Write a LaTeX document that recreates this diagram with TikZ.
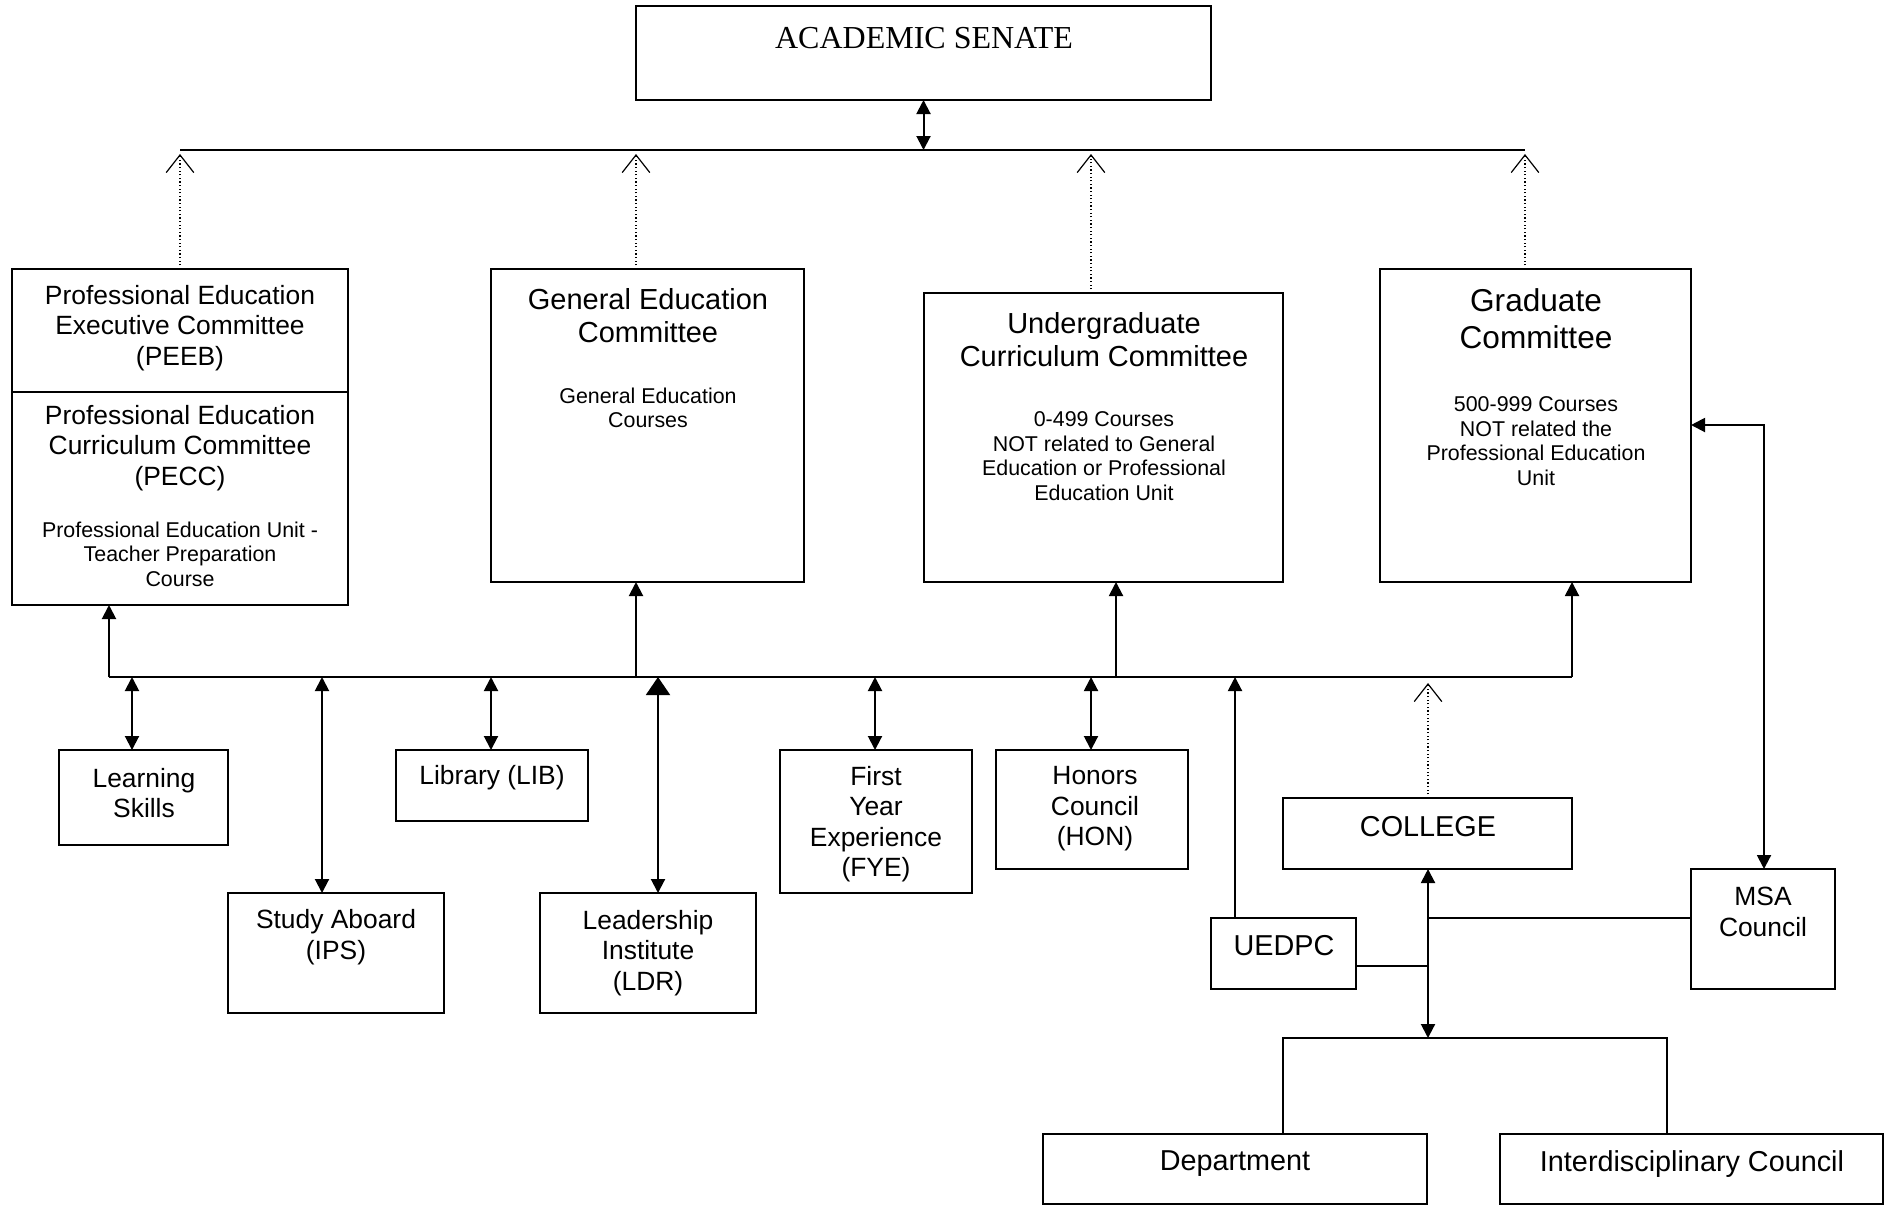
\documentclass[tikz,border=0pt]{standalone}
\usepackage{fontspec}
\setmainfont{Liberation Sans}
\newfontfamily\seriffont{Liberation Serif}
\usetikzlibrary{arrows.meta}
\newcommand\mkbox[5]{\node[box, minimum width={(#4-#2)*0.5pt}, minimum height={(#5-#3)*0.5pt}] (#1) at ({(#2+#4)/2},{(#3+#5)/2}) {};}
\begin{document}
\begin{tikzpicture}[x=0.5pt,y=-0.5pt,
  box/.style={draw, line width=1pt, inner sep=0pt, outer sep=0pt},
  txt/.style={inner sep=0pt, outer sep=0pt, align=center},
  titlef/.style={font=\fontsize{14.5}{16.5}\selectfont},
  gradf/.style={font=\fontsize{15.8}{18.5}\selectfont},
  medf/.style={font=\fontsize{13.2}{15.2}\selectfont},
  bigf/.style={font=\fontsize{14.4}{16.5}\selectfont},
  smallf/.style={font=\fontsize{10.7}{12.3}\selectfont},
  conn/.style={line width=1pt},
  >={Triangle[length=7pt,width=7pt]},
  bigtip/.style={{Triangle[length=9pt,width=12pt]}-{Triangle[length=7pt,width=7pt]}},
  dotline/.style={line width=0.6pt, dash pattern=on 0.6pt off 1.2pt, -{Straight Barb[length=8.8pt,width=13.8pt,line width=0.6pt]}}
]
\fill[white] (0,0) rectangle (1893,1206);
\useasboundingbox (0,0) rectangle (1893,1206);

% boxes
\mkbox{senate}{636}{6}{1211}{100}
\mkbox{peeb}{12}{269}{348}{605}
\mkbox{ge}{491}{269}{804}{582}
\mkbox{ucc}{924}{293}{1283}{582}
\mkbox{grad}{1380}{269}{1691}{582}
\mkbox{ls}{59}{750}{228}{845}
\mkbox{sa}{228}{893}{444}{1013}
\mkbox{lib}{396}{750}{588}{821}
\mkbox{ldr}{540}{893}{756}{1013}
\mkbox{fye}{780}{750}{972}{893}
\mkbox{hon}{996}{750}{1188}{869}
\mkbox{uedpc}{1211}{918}{1356}{989}
\mkbox{college}{1283}{798}{1572}{869}
\mkbox{msa}{1691}{869}{1835}{989}
\mkbox{dept}{1043}{1134}{1427}{1204}
\mkbox{ic}{1500}{1134}{1883}{1204}

\coordinate (pdiv) at (180,392);
\draw[conn] (peeb.west |- pdiv) -- (peeb.east |- pdiv);

% texts
\node[txt, font=\seriffont\fontsize{16}{18}\selectfont] (senate-t) at (924,38) {ACADEMIC SENATE};
\node[txt, medf] (peeb-t1) at (180,328) {Professional Education\\Executive Committee\\(PEEB)};
\node[txt, medf] (peeb-t2) at (180,448) {Professional Education\\Curriculum Committee\\(PECC)};
\node[txt, smallf] (peeb-t3) at (180,554) {Professional Education Unit -\\Teacher Preparation\\Course};
\node[txt, titlef] (ge-t1) at (648,316) {General Education\\Committee};
\node[txt, smallf] (ge-t2) at (648,408) {General Education\\Courses};
\node[txt, titlef] (ucc-t1) at (1104,340) {Undergraduate\\Curriculum Committee};
\node[txt, smallf] (ucc-t2) at (1104,456) {0-499 Courses\\NOT related to General\\Education or Professional\\Education Unit};
\node[txt, gradf] (grad-t1) at (1536,319) {Graduate\\Committee};
\node[txt, smallf] (grad-t2) at (1536,441) {500-999 Courses\\NOT related the\\Professional Education\\Unit};
\node[txt, medf] (ls-t) at (144,793) {Learning\\Skills};
\node[txt, medf] (sa-t) at (336,937) {Study Aboard\\(IPS)};
\node[txt, medf] (lib-t) at (492,778) {Library (LIB)};
\node[txt, medf] (ldr-t) at (648,953) {Leadership\\Institute\\(LDR)};
\node[txt, medf] (fye-t) at (876,824) {First\\Year\\Experience\\(FYE)};
\node[txt, medf] (hon-t) at (1095,809) {Honors\\Council\\(HON)};
\node[txt, bigf] (uedpc-t) at (1284,946) {UEDPC};
\node[txt, bigf] (college-t) at (1428,827) {COLLEGE};
\node[txt, medf] (msa-t) at (1763,912) {MSA\\Council};
\node[txt, bigf] (dept-t) at (1235,1164) {Department};
\node[txt, bigf] (ic-t) at (1692,1164) {Interdisciplinary Council};

% top line to senate
\coordinate (topL) at (180,150);
\coordinate (topR) at (1525,150);
\draw[line width=1.1pt] (topL) -- (topR);
\draw[conn,<->] (senate.south) -- (senate.south |- topL);

% dotted open arrows to top line
\coordinate (d1) at (180,154);
\coordinate (d2) at (636,154);
\coordinate (d3) at (1091,154);
\coordinate (d4) at (1525,154);
\draw[dotline] (peeb.north -| d1) -- (d1);
\draw[dotline] (ge.north -| d2) -- (d2);
\draw[dotline] (ucc.north -| d3) -- (d3);
\draw[dotline] (grad.north -| d4) -- (d4);

% bus
\coordinate (busL) at (109,677);
\coordinate (busR) at (1572,677);
\coordinate (bge) at (636,677);
\coordinate (bucc) at (1116,677);
\draw[conn] (busL) -- (busR);
\draw[conn,->] (busL) -- (busL |- peeb.south);
\draw[conn,->] (bge) -- (bge |- ge.south);
\draw[conn,->] (bucc) -- (bucc |- ucc.south);
\draw[conn,->] (busR) -- (busR |- grad.south);

% double arrows to small boxes
\coordinate (bls) at (132,677);
\coordinate (bsa) at (322,677);
\coordinate (blib) at (491,677);
\coordinate (bldr) at (658,677);
\coordinate (bfye) at (875,677);
\coordinate (bhon) at (1091,677);
\coordinate (bue) at (1235,677);
\draw[conn,<->] (bls) -- (bls |- ls.north);
\draw[conn,<->] (bsa) -- (bsa |- sa.north);
\draw[conn,<->] (blib) -- (blib |- lib.north);
\draw[conn,bigtip] (bldr) -- (bldr |- ldr.north);
\draw[conn,<->] (bfye) -- (bfye |- fye.north);
\draw[conn,<->] (bhon) -- (bhon |- hon.north);
\draw[conn,->] (uedpc.north -| bue) -- (bue);

% college
\coordinate (cd) at (1428,683);
\draw[dotline] (college.north -| cd) -- (cd);

% graduate <-> MSA
\coordinate (gm) at (1764,425);
\draw[conn,<->] (grad.east |- gm) -- (gm) -- (msa.north -| gm);

% college vertical and branches
\coordinate (cv) at (1428,918);
\coordinate (cu) at (1428,966);
\coordinate (cb) at (1428,1038);
\draw[conn] (msa.west |- cv) -- (cv);
\draw[conn] (uedpc.east |- cu) -- (cu);
\draw[conn,<->] (college.south -| cb) -- (cb);

% bracket to department and council
\coordinate (bl) at (1283,1038);
\coordinate (br) at (1667,1038);
\draw[conn] (dept.north -| bl) -- (bl) -- (br) -- (ic.north -| br);
\end{tikzpicture}
\end{document}
